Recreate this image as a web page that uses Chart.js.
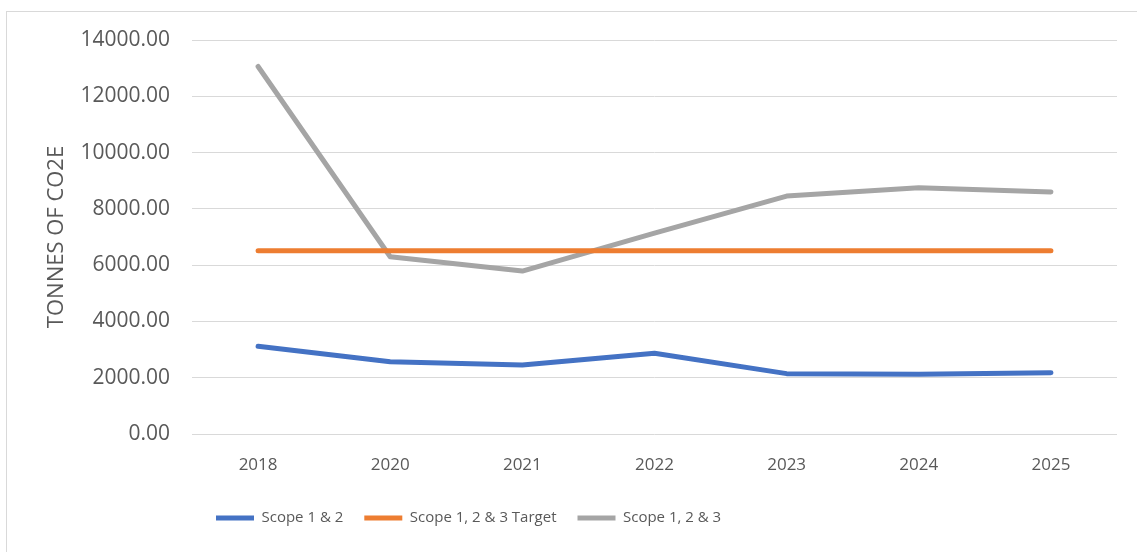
<!DOCTYPE html>
<html>
<head>
<meta charset="utf-8">
<script src="https://cdn.jsdelivr.net/npm/chart.js@4.4.1/dist/chart.umd.min.js"></script>
<style>
  html, body { margin: 0; padding: 0; background: #fff; overflow: hidden; }
  #wrap { position: relative; width: 1137px; height: 552px; }
  #frame { position: absolute; left: 6px; top: 11px; width: 1200px; height: 600px; border: 1px solid #d9d9d9; }
  #chart-box { position: absolute; left: 0; top: 0; width: 1137px; height: 552px; }
</style>
</head>
<body>
<div id="wrap">
  <div id="frame"></div>
  <div id="chart-box"><canvas id="emissions-chart"></canvas></div>
</div>
<script>
// --- dữ liệu ---
const years = ['2018', '2020', '2021', '2022', '2023', '2024', '2025'];
const scope12 = [3120, 2570, 2455, 2870, 2145, 2120, 2180];
const scope123Target = [6510, 6510, 6510, 6510, 6510, 6510, 6510];
const scope123 = [13060, 6300, 5790, 7140, 8455, 8750, 8600];
const yTicks = [0, 2000, 4000, 6000, 8000, 10000, 12000, 14000];

const textColor = '#595959';
const gridColor = '#d9d9d9';
const baseFont = "'Open Sans', 'Liberation Sans', sans-serif";

const makeLine = (label, data, color) => ({
    label: label,
    data: data,
    borderColor: color,
    backgroundColor: color,
    borderWidth: 5,
    borderCapStyle: 'round',
    borderJoinStyle: 'round',
    pointRadius: 0,
    pointHoverRadius: 0,
    tension: 0,
    fill: false
});

// dời chú thích cho giống bản gốc
const legendShift = {
    id: 'legendShift',
    beforeDraw(chart) {
        const lg = chart.legend;
        if (!lg || !lg.lineWidths) return;
        const pad = lg.options.labels.padding;
        const startX = 216;
        lg.left = startX - pad;
        lg.right = startX + lg.lineWidths[0];
        const h = lg.bottom - lg.top;
        lg.top = 518 - pad - 7.5;
        lg.bottom = lg.top + h;
    }
};

const ctx = document.getElementById('emissions-chart').getContext('2d');
new Chart(ctx, {
    type: 'line',
    data: {
        labels: years,
        datasets: [
            makeLine('Scope 1 & 2', scope12, '#4472C4'),
            makeLine('Scope 1, 2 & 3 Target', scope123Target, '#ED7D31'),
            makeLine('Scope 1, 2 & 3', scope123, '#A5A5A5')
        ]
    },
    options: {
        responsive: true,
        maintainAspectRatio: false,
        animation: false,
        layout: { padding: { left: 0, right: 20, top: 40, bottom: 32 } },
        plugins: {
            tooltip: { enabled: false },
            legend: {
                position: 'bottom',
                labels: {
                    usePointStyle: true,
                    pointStyle: 'line',
                    pointStyleWidth: 38,
                    padding: 21,
                    color: textColor,
                    font: { family: baseFont, size: 15 }
                }
            }
        },
        scales: {
            x: {
                offset: true,
                grid: { display: false, drawTicks: false },
                border: { display: false },
                ticks: {
                    color: textColor,
                    padding: 21,
                    maxRotation: 0,
                    font: { family: baseFont, size: 17 }
                },
                afterFit: (scale) => { scale.height = 40; }
            },
            y: {
                min: yTicks[0],
                max: yTicks[yTicks.length - 1],
                afterBuildTicks: (scale) => { scale.ticks = yTicks.map(v => ({ value: v })); },
                grid: { color: gridColor, lineWidth: 1, drawTicks: false },
                border: { display: false },
                ticks: {
                    color: textColor,
                    padding: 22,
                    font: { family: baseFont, size: 21 },
                    callback: (v) => Number(v).toFixed(2)
                },
                title: {
                    display: true,
                    text: 'TONNES OF CO2E',
                    color: textColor,
                    font: { family: baseFont, size: 22 },
                    padding: { top: 44, bottom: 0 }
                },
                afterFit: (scale) => { scale.width = 192; }
            }
        }
    },
    plugins: [legendShift]
});
</script>
</body>
</html>
